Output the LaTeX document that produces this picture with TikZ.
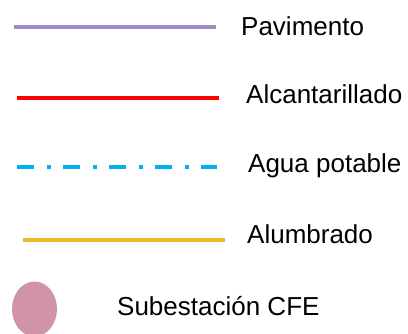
\documentclass[tikz,border=0pt]{standalone}
\usepackage{fontspec}
\setmainfont{Liberation Sans}
\usetikzlibrary{shapes.geometric}
\definecolor{pavcolor}{HTML}{A08CC8}
\definecolor{alccolor}{HTML}{FF0000}
\definecolor{aguacolor}{HTML}{00B0F0}
\definecolor{alumcolor}{HTML}{E8B82C}
\definecolor{subcolor}{HTML}{D193A6}
\tikzset{
  legtext/.style={anchor=base west, inner sep=0pt, font=\fontsize{26}{30}\selectfont},
  legline/.style={line width=4pt},
}
\begin{document}
\begin{tikzpicture}[x=1pt, y=-1pt]
    \useasboundingbox (0,0) rectangle (408,333);
    % Define legend texts
    \node[legtext] at (241,35) (pav) {Pavimento};
    \node[legtext] at (246,103) (alc) {Alcantarillado};
    \node[legtext] at (248,172) (agua) {Agua potable};
    \node[legtext] at (247,243) (alum) {Alumbrado};
    \node[legtext] at (117,315) (sub) {Subestación CFE};

    % Define line end points
    \coordinate (pavA) at (14,27);
    \coordinate (pavB) at (216,27);
    \coordinate (alcA) at (17,98);
    \coordinate (alcB) at (219,98);
    \coordinate (aguaA) at (17,167);
    \coordinate (aguaB) at (217,167);
    \coordinate (alumA) at (23,240);
    \coordinate (alumB) at (225,240);

    % Draw legend lines
    \draw[legline, pavcolor] (pavA) -- (pavB);
    \draw[legline, alccolor] (alcA) -- (alcB);
    \draw[legline, aguacolor, dash pattern=on 17pt off 13pt on 4pt off 12pt] (aguaA) -- (aguaB);
    \draw[legline, alumcolor] (alumA) -- (alumB);

    % Draw substation marker
    \node[ellipse, fill=subcolor, minimum width=45pt, minimum height=55pt, inner sep=0pt] at (34.5,309) (cfe) {};
\end{tikzpicture}
\end{document}
